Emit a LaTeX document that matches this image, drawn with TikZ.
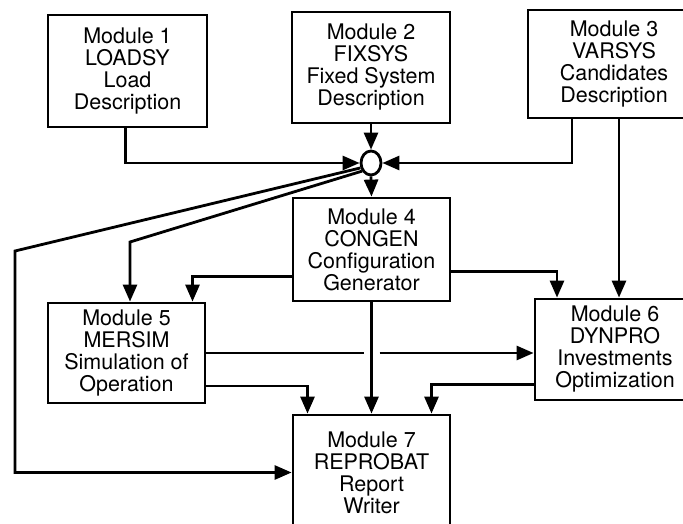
\documentclass[tikz,border=0pt]{standalone}
\usepackage{fontspec}
\setmainfont{TeX Gyre Heros}
\usetikzlibrary{arrows.meta,shapes.geometric}

\begin{document}
\begin{tikzpicture}[x=1pt,y=-1pt,line width=2.8pt]
\tikzstyle{module}=[draw,rectangle,align=center,inner sep=0pt,font=\fontsize{21.5}{22}\selectfont]
\tikzstyle{hubnode}=[draw,ellipse,inner sep=0pt,minimum width=20pt,minimum height=24pt]
\tikzstyle{link}=[-{Triangle[length=17pt,width=14pt]}]
\useasboundingbox (0,0) rectangle (683,524);
\clip (0,0) rectangle (683,524);
% input modules
\node[module,minimum width=159pt,minimum height=112pt] (m1) at (127.5,71) {Module 1\\LOADSY\\Load\\Description};
\node[module,minimum width=158pt,minimum height=111pt] (m2) at (371,67.5) {Module 2\\FIXSYS\\Fixed System\\Description};
\node[module,minimum width=172pt,minimum height=108pt] (m3) at (614,64) {Module 3\\VARSYS\\Candidates\\Description};
\node[hubnode] (hub) at (371,163) {};
% processing modules
\node[module,minimum width=157pt,minimum height=103pt] (m4) at (371.5,249.5) {Module 4\\CONGEN\\Configuration\\Generator};
\node[module,minimum width=157pt,minimum height=100pt] (m5) at (126.5,353) {Module 5\\MERSIM\\Simulation of\\Operation};
\node[module,minimum width=160pt,minimum height=101pt] (m6) at (615,349.5) {Module 6\\DYNPRO\\Investments\\Optimization};
\node[module,minimum width=157pt,minimum height=115pt] (m7) at (371.5,472.5) {Module 7\\REPROBAT\\Report\\Writer};
\coordinate (loop) at (15,251);
\coordinate (bend5) at (130,242);
% into the hub
\draw[link] ([xshift=-2pt]m1.south) |- (hub.west);
\draw[link] (m2.south) -- (hub.north);
\draw[link] ([xshift=-42pt]m3.south) |- (hub.east);
\draw[link] (hub.south) -- (m4.north);
% out of the hub
\draw[link] (hub.205) -- (loop) |- (m7.west);
\draw[link] (hub.222) -- (bend5) -- (bend5 |- m5.north);
% congen outputs
\draw[link] ([yshift=-27pt]m4.west) -| ([xshift=66pt]m5.north);
\draw[link] ([yshift=-22pt]m4.east) -| ([xshift=-58pt]m6.north);
\draw[link] (m4.south) -- (m7.north);
\draw[link] ([xshift=5pt]m3.south) -- ([xshift=5pt]m3.south |- m6.north);
% mersim to dynpro, broken where it crosses
\coordinate (jump) at (m4.south |- m5.east);
\draw (m5.east) -- ([xshift=-8pt]jump);
\draw[link] ([xshift=8pt]jump) -- (jump -| m6.west);
% into the report writer
\draw[link] ([yshift=-33pt]m5.east) -| ([xshift=-64pt]m7.north);
\draw[link] ([yshift=-35pt]m6.west) -| ([xshift=60pt]m7.north);
\end{tikzpicture}
\end{document}
